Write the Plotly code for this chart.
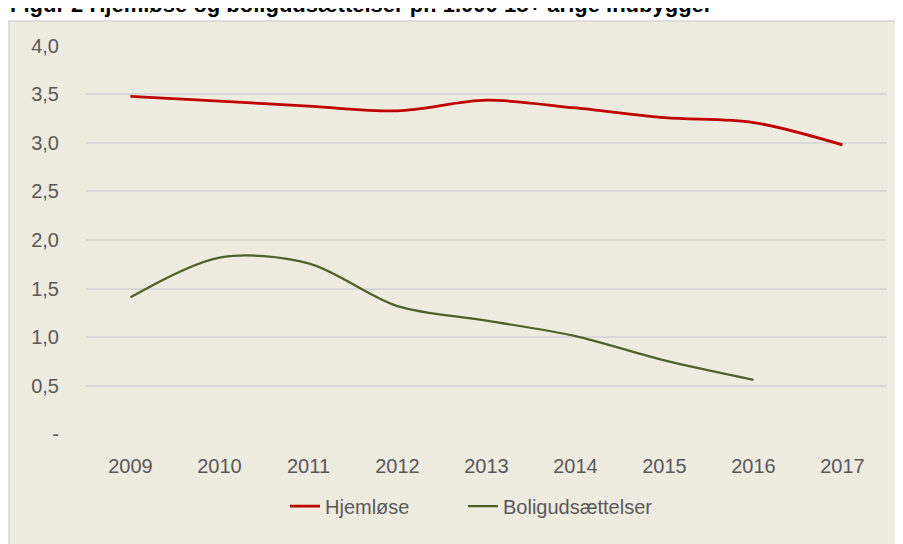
import plotly.graph_objects as go

years = ["2009", "2010", "2011", "2012", "2013", "2014", "2015", "2016", "2017"]
hjemlose = [3.48, 3.43, 3.38, 3.33, 3.44, 3.36, 3.26, 3.21, 2.98]
bolig = [1.41, 1.82, 1.76, 1.32, 1.17, 1.01, 0.76, 0.56]
ytick_vals = [0, 0.5, 1.0, 1.5, 2.0, 2.5, 3.0, 3.5, 4.0]
ytick_text = ["-", "0,5", "1,0", "1,5", "2,0", "2,5", "3,0", "3,5", "4,0"]
title = "Figur 2 Hjemløse og boligudsættelser pr. 1.000 18+ årige indbygger"

# The page body has an 8px margin, so the figure is sized to fill the rest of the window
OFF = 8
W, H = 903 - OFF, 544 - OFF
FONT = "Liberation Sans, Arial, sans-serif"
GREY = "#595959"
FS = 20


def px(x):
    return (x - OFF) / W


def py(y):
    return (544 - y) / H


fig = go.Figure()
fig.add_trace(go.Scatter(x=years, y=hjemlose, name="Hjemløse", mode="lines", legend="legend",
                         line=dict(color="#C00000", width=2.75, shape="spline", smoothing=0.9)))
fig.add_trace(go.Scatter(x=years[:len(bolig)], y=bolig, name="Boligudsættelser", mode="lines",
                         legend="legend2",
                         line=dict(color="#4F6228", width=2.25, shape="spline", smoothing=0.9)))

legend_common = dict(orientation="h", xanchor="left", y=py(516), yanchor="middle",
                     font=dict(size=FS, color=GREY), bgcolor="rgba(0,0,0,0)")

fig.update_layout(
    width=W, height=H,
    margin=dict(l=0, r=0, t=0, b=0),
    paper_bgcolor="white",
    plot_bgcolor="rgba(0,0,0,0)",
    font=dict(family=FONT, size=FS, color=GREY),
    showlegend=True,
    legend=dict(x=px(285), **legend_common),
    legend2=dict(x=px(463), **legend_common),
    xaxis=dict(domain=[px(86), px(887)], type="category", range=[-0.5, 8.5],
               showgrid=False, zeroline=False, showline=False,
               ticks="outside", ticklen=14, tickcolor="rgba(0,0,0,0)",
               tickfont=dict(size=FS, color=GREY)),
    yaxis=dict(domain=[py(441), py(36)], range=[0, 4],
               tickvals=ytick_vals, ticktext=ytick_text,
               showgrid=True, gridcolor="#D9D9D9", gridwidth=1.5,
               zeroline=False, showline=False,
               ticks="outside", ticklen=22, tickcolor="rgba(0,0,0,0)",
               tickfont=dict(size=FS, color=GREY)),
    shapes=[dict(type="rect", xref="paper", yref="paper", layer="below",
                 x0=px(9), x1=1.05, y0=-0.05, y1=py(10),
                 line=dict(color="#D4D4D4", width=1.5), fillcolor="#EEEBE1")],
    annotations=[dict(text="<b>" + title + "</b>", xref="paper", yref="paper",
                      x=0, xanchor="left", y=py(8), yanchor="bottom",
                      showarrow=False, font=dict(size=22, color="black", family=FONT))],
)

fig.write_html("out.html")
